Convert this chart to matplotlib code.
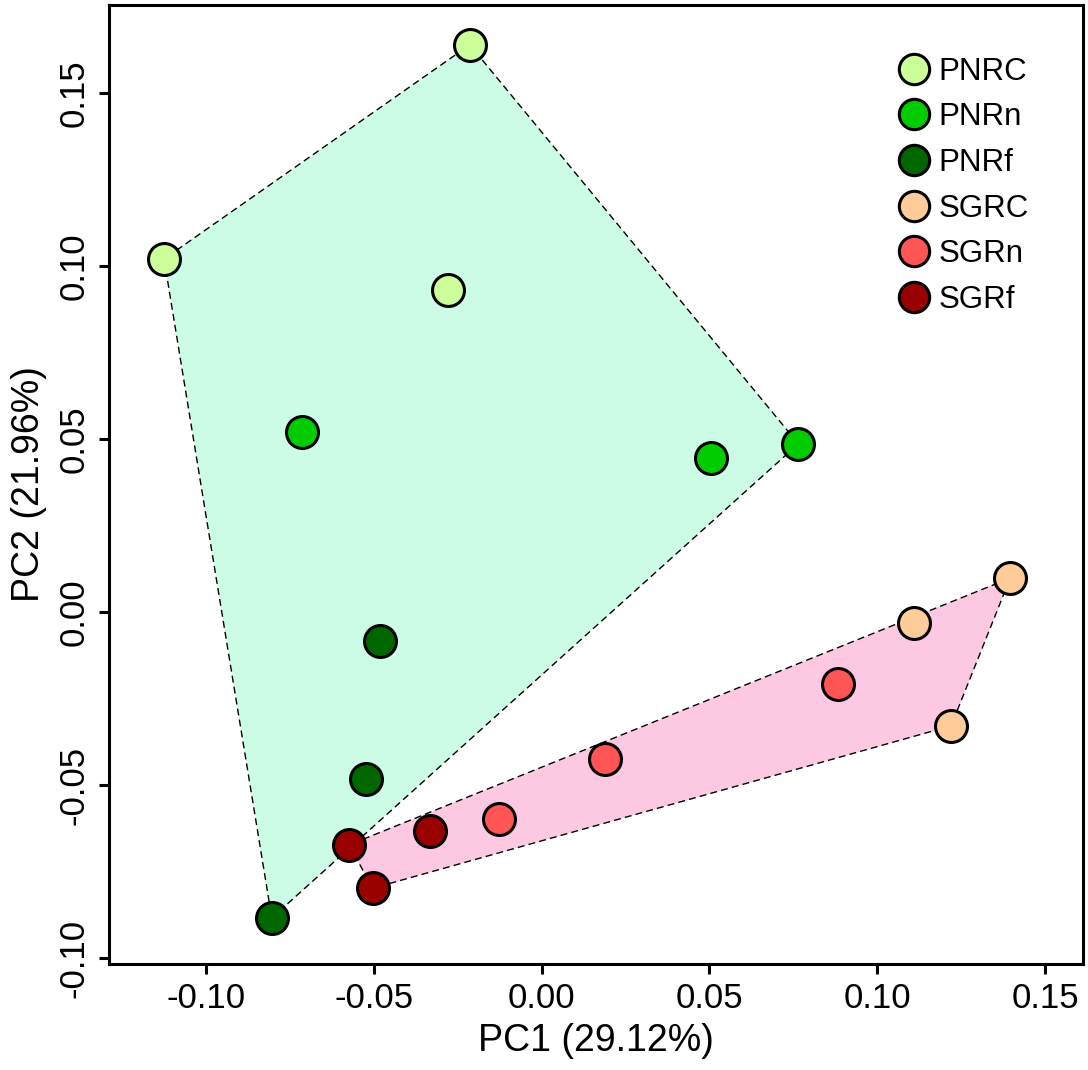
import numpy as np
import matplotlib
matplotlib.use('Agg')
import matplotlib.pyplot as plt

plt.rcParams['font.family'] = ['Liberation Sans', 'DejaVu Sans']

# scores
groups = ['PNRC', 'PNRn', 'PNRf', 'SGRC', 'SGRn', 'SGRf']
pc1 = {
    'PNRC': [-0.0214, -0.1125, -0.0280],
    'PNRn': [-0.0714, 0.0506, 0.0765],
    'PNRf': [-0.0482, -0.0524, -0.0804],
    'SGRC': [0.1396, 0.1110, 0.1220],
    'SGRn': [0.0884, 0.0188, -0.0128],
    'SGRf': [-0.0574, -0.0333, -0.0503],
}
pc2 = {
    'PNRC': [0.1639, 0.1020, 0.0931],
    'PNRn': [0.0520, 0.0445, 0.0486],
    'PNRf': [-0.0084, -0.0483, -0.0884],
    'SGRC': [0.0098, -0.0032, -0.0329],
    'SGRn': [-0.0208, -0.0425, -0.0598],
    'SGRf': [-0.0673, -0.0633, -0.0798],
}
colors = {
    'PNRC': '#ccff99', 'PNRn': '#00cc00', 'PNRf': '#006600',
    'SGRC': '#ffcc99', 'SGRn': '#ff5555', 'SGRf': '#990000',
}
sites = {'PN': ['PNRC', 'PNRn', 'PNRf'], 'SG': ['SGRC', 'SGRn', 'SGRf']}
site_fill = {'PN': '#ccfbe6', 'SG': '#fcc8e2'}


def convex_hull(pts):
    pts = sorted(set(pts))
    def cross(o, a, b):
        return (a[0]-o[0])*(b[1]-o[1]) - (a[1]-o[1])*(b[0]-o[0])
    lower, upper = [], []
    for p in pts:
        while len(lower) >= 2 and cross(lower[-2], lower[-1], p) <= 0:
            lower.pop()
        lower.append(p)
    for p in reversed(pts):
        while len(upper) >= 2 and cross(upper[-2], upper[-1], p) <= 0:
            upper.pop()
        upper.append(p)
    return np.array(lower[:-1] + upper[:-1])


fig = plt.figure(figsize=(10.88, 10.70), dpi=100)
ax = fig.add_axes([109/1088, 1-964/1070, (1083-109)/1088, (964-5)/1070])

for site, members in sites.items():
    pts = [(x, y) for g in members for x, y in zip(pc1[g], pc2[g])]
    hull = convex_hull(pts)
    ax.fill(hull[:, 0], hull[:, 1], facecolor=site_fill[site], edgecolor='none', zorder=1)
    closed = np.vstack([hull, hull[:1]])
    ax.plot(closed[:, 0], closed[:, 1], color='black', lw=1.0, ls=(0, (5, 3)), zorder=2)

for g in groups:
    ax.plot(pc1[g], pc2[g], 'o', ms=23, mfc=colors[g], mec='black', mew=2.2,
            ls='none', label=g, zorder=3)

ax.set_xlim(-0.1289, 0.1613)
ax.set_ylim(-0.1017, 0.1754)
ax.set_xticks([-0.10, -0.05, 0.00, 0.05, 0.10, 0.15])
ax.set_yticks([-0.10, -0.05, 0.00, 0.05, 0.10, 0.15])
ax.set_xticklabels(['-0.10', '-0.05', '0.00', '0.05', '0.10', '0.15'])
ax.set_yticklabels(['-0.10', '-0.05', '0.00', '0.05', '0.10', '0.15'],
                   rotation=90, va='center')
ax.tick_params(direction='out', length=7, width=2.2, labelsize=25, pad=6)
for s in ax.spines.values():
    s.set_linewidth(2.2)

ax.set_xlabel('PC1 (29.12%)', fontsize=27, labelpad=6)
ax.set_ylabel('PC2 (21.96%)', fontsize=27, labelpad=8)

ax.legend(loc='upper left', bbox_to_anchor=(0.810, 0.946), frameon=False, fontsize=22.5,
          handlelength=1.0, handletextpad=0.3, labelspacing=0.5,
          borderaxespad=0, borderpad=0, markerscale=0.95)

fig.savefig('out.png', dpi=100)
